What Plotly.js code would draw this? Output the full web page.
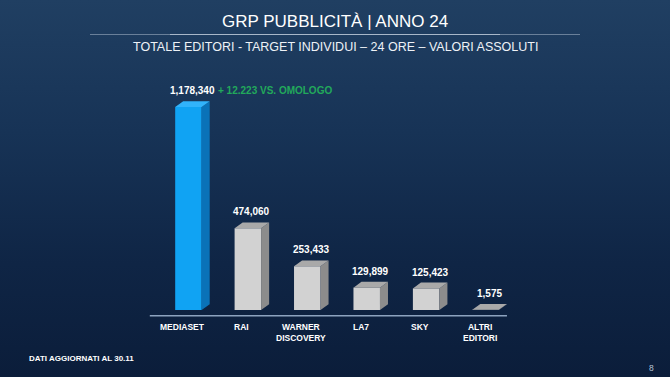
<!DOCTYPE html>
<html>
<head>
<meta charset="utf-8">
<script src="https://cdn.plot.ly/plotly-3.0.1.min.js"></script>
<style>
html,body{margin:0;padding:0;width:670px;height:377px;overflow:hidden;}
body{background:linear-gradient(180deg,#203f62 0%,#173356 35%,#0f2545 70%,#0b1d3a 100%);}
#chart{width:670px;height:377px;}
</style>
</head>
<body>
<div id="chart"></div>
<script>
// ---- data ----
const categories = ["MEDIASET", "RAI", "WARNER<br>DISCOVERY", "LA7", "SKY", "ALTRI<br>EDITORI"];
const values = [1178340, 474060, 253433, 129899, 125423, 1575];
const valueLabels = ["1,178,340", "474,060", "253,433", "129,899", "125,423", "1,575"];
const highlightIndex = 0;
const deltaNote = "+ 12.223 VS. OMOLOGO";

// ---- style ----
const FONT = "Liberation Sans, Arial, sans-serif";
const barW = 0.446;      // front face width (x units)
const dx = 0.135;        // depth in x units
const dy = 34000;        // depth in value units
const frontCol = values.map((v, i) => i === highlightIndex ? "#10a3f3" : "#d2d2d2");
const sideCol  = values.map((v, i) => i === highlightIndex ? "#0a72b8" : "#8c8c8c");
const topCol   = values.map((v, i) => i === highlightIndex ? "#31b3fb" : "#a9a9a9");
const xs = categories.map((c, i) => i);

const W = 670, H = 377, L = 129, R = 125, T = 80, B = 57;
const pw = W - L - R, ph = H - T - B;
function px(xp) { return (xp - L) / pw; }
function py(yp) { return (H - B - yp) / ph; }

const shapes = [];
xs.forEach((x, i) => {
  const v = values[i];
  const r = x + barW / 2, l = x - barW / 2;
  shapes.push({type: "path", xref: "x", yref: "y",
    path: `M ${r} 0 L ${r + dx} ${dy} L ${r + dx} ${v + dy} L ${r} ${v} Z`,
    fillcolor: sideCol[i], line: {width: 0}, layer: "above"});
  shapes.push({type: "path", xref: "x", yref: "y",
    path: `M ${l} ${v} L ${l + dx} ${v + dy} L ${r + dx} ${v + dy} L ${r} ${v} Z`,
    fillcolor: topCol[i], line: {width: 0}, layer: "above"});
});
shapes.push({type: "line", xref: "x", yref: "y", x0: -0.65, x1: 5.36, y0: -34000, y1: -34000,
  line: {color: "#8da3bf", width: 1.5}});
shapes.push(
  {type: "line", xref: "paper", yref: "paper", x0: px(90), x1: px(580), y0: py(34.5), y1: py(34.5),
   line: {color: "rgba(220,230,242,0.4)", width: 1}},
  {type: "line", xref: "paper", yref: "paper", x0: px(170), x1: px(500), y0: py(34.5), y1: py(34.5),
   line: {color: "rgba(230,238,248,0.5)", width: 1}}
);

const annotations = [];
xs.forEach((x, i) => {
  annotations.push({x: x + dx / 2, y: values[i] + dy, xref: "x", yref: "y",
    text: "<b>" + valueLabels[i] + "</b>", showarrow: false, xanchor: "center", yanchor: "bottom", yshift: 3,
    font: {family: FONT, size: 10, color: "#ffffff"}});
  annotations.push({x: x, y: 0, xref: "x", yref: "y",
    text: "<b>" + categories[i] + "</b>", showarrow: false, xanchor: "center", yanchor: "top", yshift: -10, xshift: -6,
    font: {family: FONT, size: 8.5, color: "#ffffff"}});
});
annotations.push({x: xs[highlightIndex] + 0.47, y: values[highlightIndex] + dy, xref: "x", yref: "y",
  text: "<b>" + deltaNote + "</b>", showarrow: false, xanchor: "left", yanchor: "bottom", yshift: 3,
  font: {family: FONT, size: 10, color: "#22a95b"}});
annotations.push(
  {x: px(335), y: py(22), xref: "paper", yref: "paper", xanchor: "center", yanchor: "middle",
   text: "GRP PUBBLICITÀ | ANNO 24",
   showarrow: false, font: {family: FONT, size: 17, color: "#ffffff"}},
  {x: px(335), y: py(47), xref: "paper", yref: "paper", xanchor: "center", yanchor: "middle",
   text: "TOTALE EDITORI - TARGET INDIVIDUI – 24 ORE – VALORI ASSOLUTI",
   showarrow: false, font: {family: FONT, size: 12.5, color: "#eef2f7"}},
  {x: px(27), y: py(358), xref: "paper", yref: "paper", xanchor: "left", yanchor: "middle",
   text: "<b>DATI AGGIORNATI AL 30.11</b>", showarrow: false, font: {family: FONT, size: 8, color: "#ffffff"}},
  {x: px(651), y: py(368), xref: "paper", yref: "paper", xanchor: "center", yanchor: "middle",
   text: "8", showarrow: false, font: {family: FONT, size: 8.5, color: "#b8c4d4"}}
);

const layout = {
  width: W, height: H,
  paper_bgcolor: "rgba(0,0,0,0)", plot_bgcolor: "rgba(0,0,0,0)",
  margin: {l: L, r: R, t: T, b: B},
  showlegend: false,
  xaxis: {range: [-1, 6], showgrid: false, zeroline: false, showticklabels: false, showline: false, fixedrange: true},
  yaxis: {range: [-58000, 1335000], showgrid: false, zeroline: false, showticklabels: false, showline: false, fixedrange: true},
  shapes: shapes,
  annotations: annotations
};

const data = [{
  type: "bar", x: xs, y: values, width: barW,
  marker: {color: frontCol, line: {width: 0}},
  hoverinfo: "skip"
}];

Plotly.newPlot("chart", data, layout, {displayModeBar: false, staticPlot: true});
</script>
</body>
</html>
